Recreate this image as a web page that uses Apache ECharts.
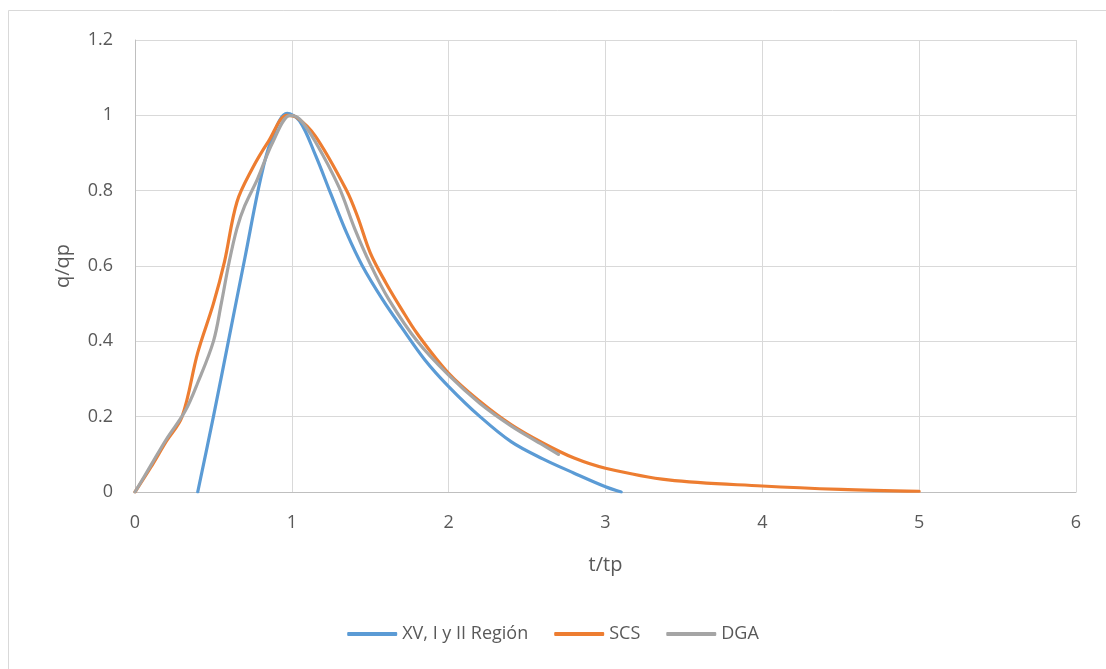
<!DOCTYPE html>
<html>
<head>
<meta charset="utf-8">
<script src="https://cdn.jsdelivr.net/npm/echarts@6/dist/echarts.min.js"></script>
<style>
html,body{margin:0;padding:0;background:#fff;}
#chart{width:1106px;height:669px;}
</style>
</head>
<body>
<div id="chart"></div>
<script>
// Data
const seriesNames = ['XV, I y II Región', 'SCS', 'DGA'];

const regionT = [0.4, 0.5, 0.6, 0.7, 0.8, 0.87, 0.97, 1.05, 1.15, 1.25, 1.35, 1.45, 1.58, 1.7, 1.85, 2.0, 2.2, 2.4, 2.6, 2.8, 3.0, 3.1];
const regionQ = [0, 0.2, 0.41, 0.62, 0.83, 0.935, 1.005, 0.985, 0.895, 0.79, 0.687, 0.6, 0.51, 0.437, 0.35, 0.28, 0.2, 0.133, 0.088, 0.05, 0.014, 0];

const scsT = [0, 0.1, 0.2, 0.3, 0.4, 0.5, 0.57, 0.65, 0.75, 0.85, 0.97, 1.03, 1.15, 1.35, 1.42, 1.5, 1.6, 1.7, 1.8, 2.0, 2.2, 2.4, 2.6, 2.8, 3.0, 3.4, 4.0, 4.5, 5.0];
const scsQ = [0, 0.065, 0.135, 0.2, 0.37, 0.5, 0.61, 0.77, 0.86, 0.93, 1.0, 0.995, 0.945, 0.8, 0.73, 0.635, 0.555, 0.485, 0.42, 0.315, 0.24, 0.178, 0.13, 0.09, 0.063, 0.032, 0.016, 0.007, 0.002];

const dgaT = [0, 0.1, 0.2, 0.32, 0.4, 0.5, 0.55, 0.6, 0.65, 0.7, 0.78, 0.88, 0.99, 1.05, 1.15, 1.3, 1.4, 1.5, 1.62, 1.8, 2.0, 2.2, 2.4, 2.6, 2.7];
const dgaQ = [0, 0.07, 0.14, 0.215, 0.29, 0.4, 0.5, 0.61, 0.7, 0.76, 0.83, 0.93, 1.0, 0.99, 0.93, 0.81, 0.7, 0.605, 0.51, 0.4, 0.31, 0.235, 0.175, 0.125, 0.1];

const xTicks = { min: 0, max: 6, interval: 1 };
const yTicks = { min: 0, max: 1.2, interval: 0.2 };

const colors = ['#5B9BD5', '#ED7D31', '#A5A5A5'];
const zip = (a, b) => a.map((v, i) => [v, b[i]]);
const seriesData = [zip(regionT, regionQ), zip(scsT, scsQ), zip(dgaT, dgaQ)];

const font = '"Open Sans", "Noto Sans", sans-serif';
const chart = echarts.init(document.getElementById('chart'), null, { renderer: 'canvas' });
chart.setOption({
  animation: false,
  backgroundColor: '#fff',
  color: colors,
  textStyle: { fontFamily: font },
  graphic: [{
    type: 'rect',
    shape: { x: 8.5, y: 10.5, width: 1200, height: 800 },
    style: { fill: 'none', stroke: '#D9D9D9', lineWidth: 1 },
    silent: true, z: -1
  }],
  grid: { left: 135, right: 30, top: 40, bottom: 177, containLabel: false },
  xAxis: {
    type: 'value', min: xTicks.min, max: xTicks.max, interval: xTicks.interval,
    name: 't/tp', nameLocation: 'middle', nameGap: 63,
    nameTextStyle: { fontSize: 20, color: '#595959', fontFamily: font },
    axisLine: { show: true, lineStyle: { color: '#BFBFBF', width: 1 } },
    axisTick: { show: false },
    axisLabel: { margin: 22, fontSize: 18, color: '#595959', fontFamily: font },
    splitLine: { show: true, lineStyle: { color: '#D9D9D9', width: 1 } }
  },
  yAxis: {
    type: 'value', min: yTicks.min, max: yTicks.max, interval: yTicks.interval,
    name: 'q/qp', nameLocation: 'middle', nameGap: 62, nameRotate: 90,
    nameTextStyle: { fontSize: 20, color: '#595959', fontFamily: font },
    axisLine: { show: true, lineStyle: { color: '#BFBFBF', width: 1 } },
    axisTick: { show: false },
    axisLabel: { margin: 22, fontSize: 18, color: '#595959', fontFamily: font,
      formatter: v => String(+v.toFixed(1)) },
    splitLine: { show: true, lineStyle: { color: '#D9D9D9', width: 1 } }
  },
  legend: {
    data: seriesNames,
    left: 'center', top: 620,
    itemWidth: 50, itemHeight: 4, itemGap: 26,
    icon: 'roundRect',
    textStyle: { fontSize: 18, color: '#595959', fontFamily: font }
  },
  series: seriesNames.map((n, i) => ({
    name: n, type: 'line', data: seriesData[i],
    smooth: 0.35, symbol: 'none',
    lineStyle: { width: 3.2, color: colors[i], cap: 'round', join: 'round' },
    itemStyle: { color: colors[i] },
    z: i === 0 ? 2 : (i === 1 ? 3 : 4)
  }))
});
</script>
</body>
</html>
